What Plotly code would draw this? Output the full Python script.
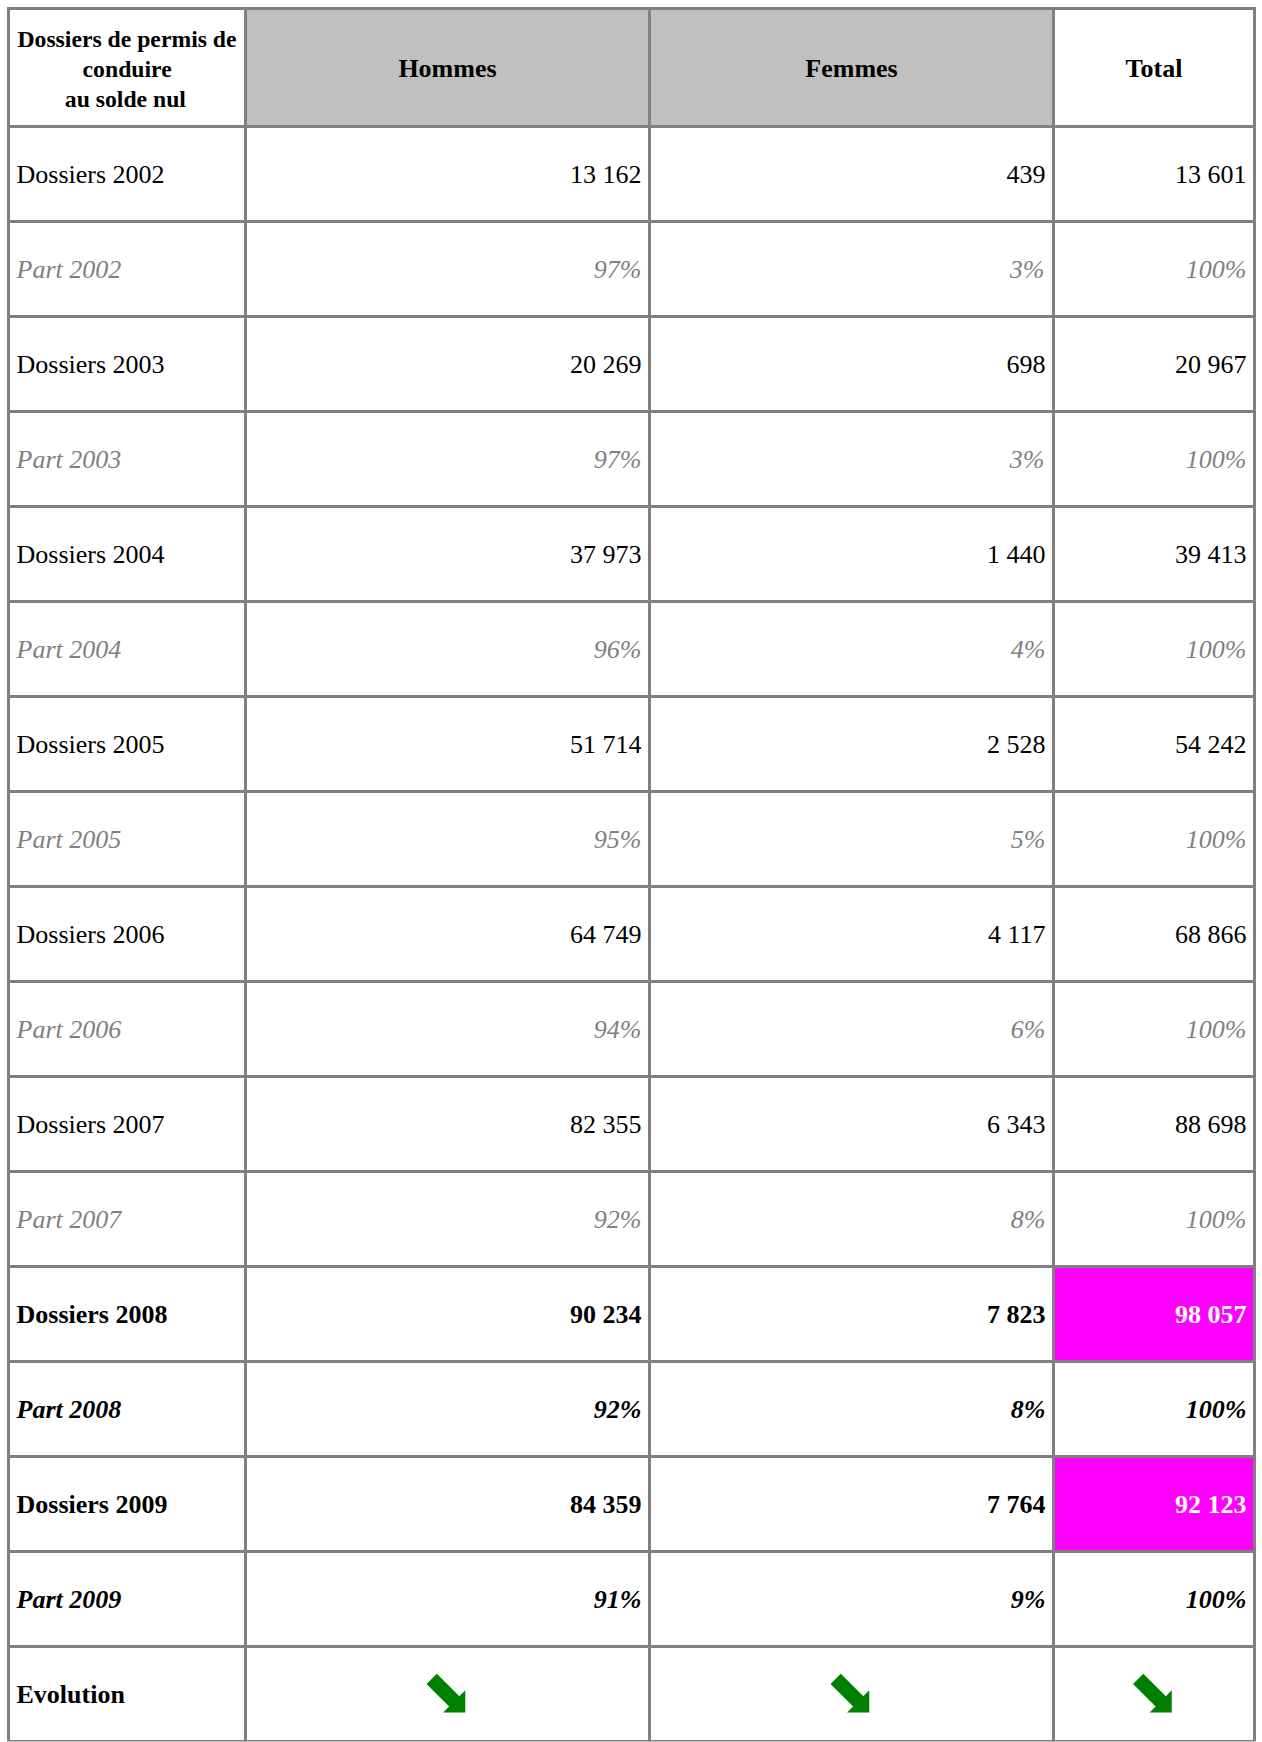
import plotly.graph_objects as go

# ---- data ----
years = [2002, 2003, 2004, 2005, 2006, 2007, 2008, 2009]
hommes = [13162, 20269, 37973, 51714, 64749, 82355, 90234, 84359]
femmes = [439, 698, 1440, 2528, 4117, 6343, 7823, 7764]
total = [13601, 20967, 39413, 54242, 68866, 88698, 98057, 92123]
part_hommes = [97, 97, 96, 95, 94, 92, 92, 91]
part_femmes = [3, 3, 4, 5, 6, 8, 8, 9]
part_total = [100, 100, 100, 100, 100, 100, 100, 100]
bold_years = [2008, 2009]
highlight_total_years = [2008, 2009]
header_lines = ["Dossiers de permis de", "conduire", "au solde nul"]
header_labels = ["Hommes", "Femmes", "Total"]
evolution_label = "Evolution"
evolution_arrow = "⬊"

# ---- styles ----
GRAY_TXT = "#808080"
GRID = "#808080"
HEAD_FILL = "#C0C0C0"
MAGENTA = "#FF00FF"
GREEN = "#008000"
SERIF = "Liberation Serif, Times New Roman, serif"
ARROWFONT = "DejaVu Sans"
NB = "\u00a0"
BODY_SIZE = 26
BODY_BASE = 22.2      # controls vertical centring of body text
HEAD_BASE = 27.6      # controls vertical centring of header labels
ARROW_SIZE = 63
ARROW_BASE = 26.7


def fmt(n):
    return f"{n:,}".replace(",", " ")


def wrap(t, bold=False, italic=False):
    if italic:
        t = f"<i>{t}</i>"
    if bold:
        t = f"<b>{t}</b>"
    return t


def lead(t, size):
    # blank leading line (its height follows the cell base font) then the visible text
    return NB + "<br>" + f'<span style="font-size:{size}px">{t}</span>'


cols = [[], [], [], []]
colors = [[], [], [], []]
fills = [[], [], [], []]
fams = [[], [], [], []]
sizes = [[], [], [], []]
aligns = [[], [], [], []]


def add(row_vals, row_colors, row_fills, row_fams, row_sizes, row_aligns):
    for c in range(4):
        cols[c].append(row_vals[c])
        colors[c].append(row_colors[c])
        fills[c].append(row_fills[c])
        fams[c].append(row_fams[c])
        sizes[c].append(row_sizes[c])
        aligns[c].append(row_aligns[c])


ALIGN_ROW = ["left", "right", "right", "right"]
for i, y in enumerate(years):
    b = y in bold_years
    hl = y in highlight_total_years
    vals = [f"Dossiers {y}", fmt(hommes[i]), fmt(femmes[i]), fmt(total[i])]
    add([lead(wrap(v, bold=b or (k == 3 and hl)), BODY_SIZE) for k, v in enumerate(vals)],
        ["black", "black", "black", "white" if hl else "black"],
        ["white", "white", "white", MAGENTA if hl else "white"],
        [SERIF] * 4, [BODY_BASE] * 4, ALIGN_ROW)
    pv = [f"Part {y}", f"{part_hommes[i]}%", f"{part_femmes[i]}%", f"{part_total[i]}%"]
    pc = "black" if b else GRAY_TXT
    add([lead(wrap(v, bold=b, italic=True), BODY_SIZE) for v in pv],
        [pc] * 4, ["white"] * 4, [SERIF] * 4, [BODY_BASE] * 4, ALIGN_ROW)

add([lead(wrap(evolution_label, bold=True), BODY_SIZE)] + [lead(evolution_arrow, ARROW_SIZE)] * 3,
    ["black", GREEN, GREEN, GREEN], ["white"] * 4,
    [SERIF, ARROWFONT, ARROWFONT, ARROWFONT],
    [BODY_BASE, ARROW_BASE, ARROW_BASE, ARROW_BASE],
    ["left", "center", "center", "center"])

# first header cell: three centred lines, pushed down by a tiny blank first line
pads = [0, 11, 8]
head0 = ('<span style="font-size:1px">' + NB + "</span><br>"
         + "<br>".join(f'<span style="font-size:23.7px">{NB * p}{t}</span>'
                       for p, t in zip(pads, header_lines)))
header_vals = [wrap(head0, bold=True)] + [lead(wrap(h, bold=True), 26) for h in header_labels]

W, H = 1262, 1742
table = dict(
    type="table",
    domain=dict(x=[8.5 / W, 1254.5 / W], y=[0, 1 - 8.5 / H]),
    columnwidth=[237, 404, 404, 201],
    header=dict(
        values=header_vals,
        fill=dict(color=["white", HEAD_FILL, HEAD_FILL, "white"]),
        line=dict(color=GRID, width=3),
        font=dict(family=SERIF, size=[23, HEAD_BASE, HEAD_BASE, HEAD_BASE], color="black"),
        align=["center", "center", "center", "center"],
        height=118,
    ),
    cells=dict(
        values=cols,
        fill=dict(color=fills),
        line=dict(color=GRID, width=3),
        font=dict(family=fams, size=sizes, color=colors),
        align=aligns,
        height=95,
    ),
)
layout = dict(width=W, height=H, margin=dict(l=0, r=0, t=0, b=0),
              paper_bgcolor="white", plot_bgcolor="white")
fig = go.Figure(data=[table], layout=layout, _validate=False)
fig.write_html("out.html", config={"displayModeBar": False, "staticPlot": True},
               post_script="document.body.style.margin='0';")
